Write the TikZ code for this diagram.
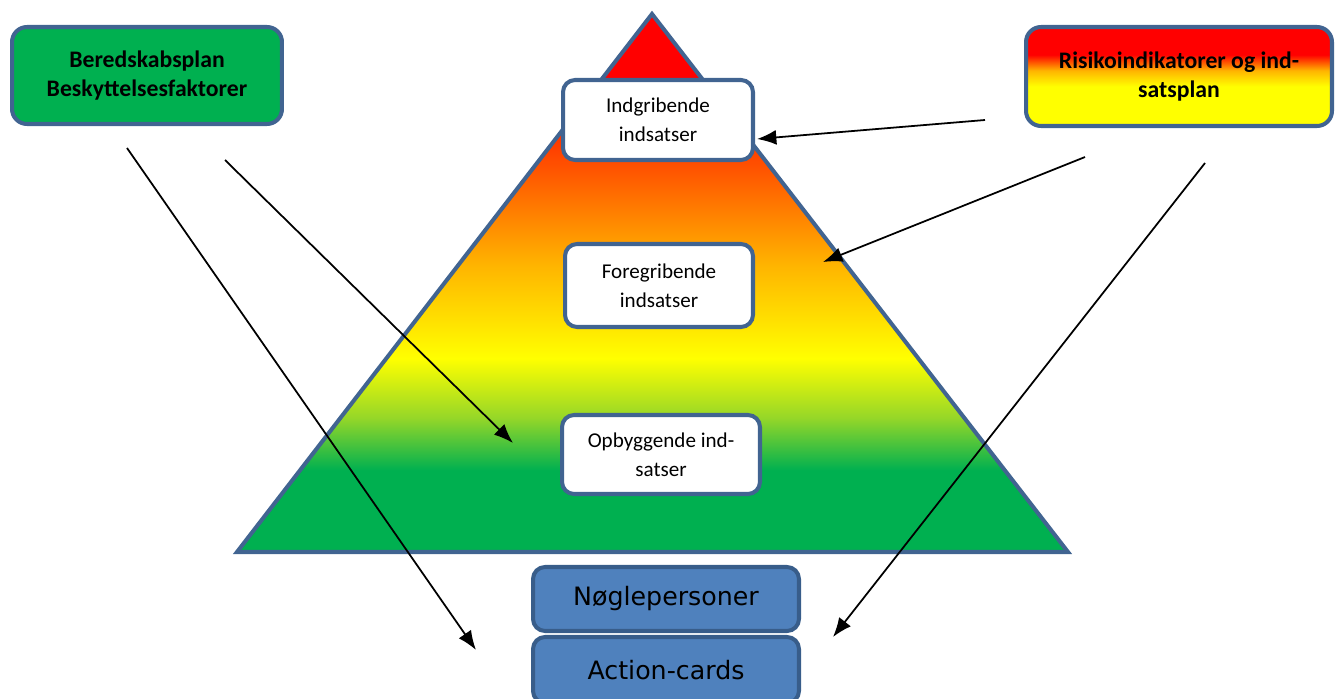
\documentclass[tikz,border=0pt]{standalone}
\usepackage{fontspec}
\setmainfont{Carlito}
\newfontfamily\verdana{DejaVu Sans}
\usetikzlibrary{arrows.meta}

\definecolor{pgreen}{RGB}{0,176,80}
\definecolor{pyelgreen}{RGB}{150,215,40}
\definecolor{porange}{RGB}{255,180,0}
\definecolor{pred}{RGB}{255,80,0}
\definecolor{pyellow}{RGB}{255,255,0}
\definecolor{pborder}{RGB}{65,100,145}
\definecolor{pblue}{RGB}{79,129,189}
\definecolor{pbluedark}{RGB}{56,93,138}

\pgfdeclareverticalshading{pyramid}{100bp}{color(0bp)=(pgreen); color(32.6bp)=(pgreen);
	color(37.5bp)=(pyelgreen); color(43bp)=(pyellow); color(51.7bp)=(porange);
	color(61bp)=(pred); color(68.9bp)=(red); color(100bp)=(red)}
\pgfdeclareverticalshading{risk}{100bp}{color(0bp)=(pyellow); color(45bp)=(pyellow);
	color(53bp)=(porange); color(61bp)=(red); color(100bp)=(red)}

\tikzset{
	planbox/.style={draw=pborder, line width=2.3pt, rounded corners=0.3cm, align=center,
		font=\fontsize{13.5}{17}\selectfont\bfseries},
	levelbox/.style={draw=pborder, fill=white, line width=2.3pt, rounded corners=0.24cm,
		align=center, font=\fontsize{12}{16.5}\selectfont},
	toolbox/.style={draw=pbluedark, fill=pblue, line width=2.3pt, rounded corners=0.24cm,
		minimum width=5.32cm, font=\verdana\fontsize{14.4}{17}\selectfont},
	pil/.style={-{Latex[length=11pt,width=8.5pt]}, line width=1pt},
}

\begin{document}
\begin{tikzpicture}[x=0.02cm, y=-0.02cm]

		\useasboundingbox (0,0) rectangle (1336,699);

		% pyramiden
		\path[shading=pyramid, draw=pborder, line width=2.3pt] (652,14) -- (1068,552) -- (237,552) -- cycle;

		\node[planbox, fill=pgreen, minimum width=5.4cm, minimum height=1.94cm] (bered) at (147,75.5)
			{Beredskabsplan\\Beskyttelsesfaktorer};
		\node[planbox, shading=risk, minimum width=6.12cm, minimum height=1.98cm] (risiko) at (1179,76.5)
			{Risikoindikatorer og ind-\\satsplan};

		\node[levelbox, minimum width=3.8cm, minimum height=1.6cm] (indgr) at (658,120) {Indgribende\\indsatser};
		\node[levelbox, minimum width=3.76cm, minimum height=1.66cm] (foregr) at (659,285.5) {Foregribende\\indsatser};
		\node[levelbox, minimum width=3.96cm, minimum height=1.58cm] (opbyg) at (661,454.5) {Opbyggende ind-\\satser};

		\node[toolbox, minimum height=1.28cm] (noegle) at (666,599) {Nøglepersoner};
		\node[toolbox, minimum height=1.32cm] (action) at (666,670) {Action-cards};

		% pile
		\coordinate (r1) at (985,120);
		\coordinate (r2) at (1085,157);
		\coordinate (r3) at (1205,163);
		\coordinate (b1) at (127,148);
		\coordinate (b2) at (225,160);
		\coordinate (indgpil) at (757,139);
		\coordinate (foregpil) at (823,262);
		\coordinate (actpil) at (833,637);
		\coordinate (opbpil) at (513,443);
		\coordinate (noeglepil) at (476,650);

		\draw[pil] (r1) -- (indgpil);
		\draw[pil] (r2) -- (foregpil);
		\draw[pil] (r3) -- (actpil);
		\draw[pil] (b1) -- (noeglepil);
		\draw[pil] (b2) -- (opbpil);

\end{tikzpicture}
\end{document}
